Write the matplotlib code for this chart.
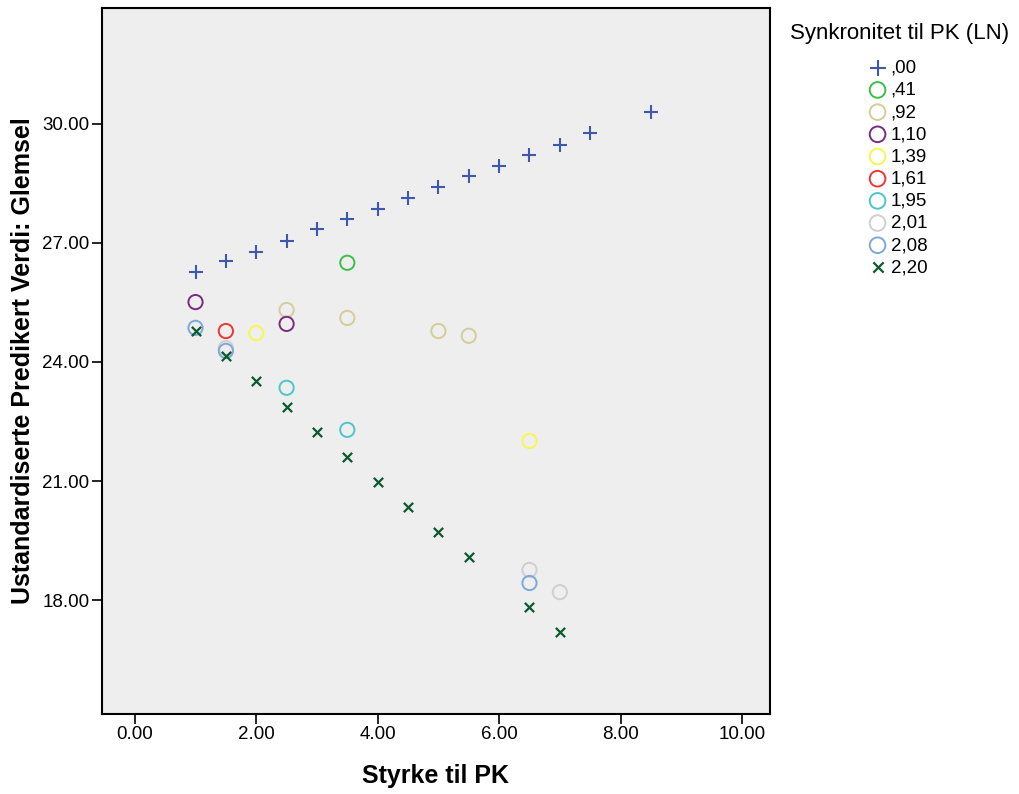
import matplotlib
matplotlib.use("Agg")
import matplotlib.pyplot as plt

plt.rcParams["font.family"] = ["Liberation Sans", "DejaVu Sans"]

# Synkronitet til PK (LN) groups: Styrke til PK (x) vs predicted Glemsel (y)
groups = [",00", ",41", ",92", "1,10", "1,39", "1,61", "1,95", "2,01", "2,08", "2,20"]

x_00 = [1, 1.5, 2, 2.5, 3, 3.5, 4, 4.5, 5, 5.5, 6, 6.5, 7, 7.5, 8.5]
y_00 = [26.27, 26.55, 26.77, 27.05, 27.35, 27.6, 27.86, 28.13, 28.41, 28.69, 28.94, 29.22, 29.47, 29.77, 30.3]
x_41 = [3.5]
y_41 = [26.5]
x_92 = [2.5, 3.5, 5, 5.5]
y_92 = [25.31, 25.11, 24.78, 24.66]
x_110 = [1, 2.5]
y_110 = [25.51, 24.96]
x_139 = [2, 6.5]
y_139 = [24.73, 22.01]
x_161 = [1.5]
y_161 = [24.78]
x_195 = [2.5, 3.5]
y_195 = [23.35, 22.29]
x_201 = [1.5, 6.5, 7]
y_201 = [24.35, 18.76, 18.2]
x_208 = [1, 1.5, 6.5]
y_208 = [24.86, 24.28, 18.43]
x_220 = [1, 1.5, 2, 2.5, 3, 3.5, 4, 4.5, 5, 5.5, 6.5, 7]
y_220 = [24.78, 24.15, 23.52, 22.87, 22.24, 21.61, 20.98, 20.34, 19.71, 19.08, 17.82, 17.19]

xs = [x_00, x_41, x_92, x_110, x_139, x_161, x_195, x_201, x_208, x_220]
ys = [y_00, y_41, y_92, y_110, y_139, y_161, y_195, y_201, y_208, y_220]
colors = ["#3E58AC", "#3DBE4A", "#D4CD98", "#7A2B80", "#F8F74F", "#EE3535",
          "#4CC6CC", "#CFCFCF", "#7EA8D8", "#0C5A30"]
markers = ["+", "o", "o", "o", "o", "o", "o", "o", "o", "x"]

fig = plt.figure(figsize=(10.19, 7.94), dpi=100)
ax = fig.add_axes([0.1001, 0.1008, 0.6555, 0.8891])
ax.set_facecolor("#EEEEEE")

for lab, x, y, c, m in zip(groups, xs, ys, colors, markers):
    if m == "o":
        ax.scatter(x, y, s=105, facecolors="none", edgecolors=c, linewidths=1.4, label=lab)
    elif m == "+":
        ax.scatter(x, y, s=110, marker="+", color=c, linewidths=1.5, label=lab)
    else:
        ax.scatter(x, y, s=45, marker="x", color=c, linewidths=1.6, label=lab)

ax.set_xlim(-0.54, 10.46)
ax.set_ylim(15.13, 32.92)
ax.set_xticks([0, 2, 4, 6, 8, 10])
ax.set_yticks([18, 21, 24, 27, 30])
ax.xaxis.set_major_formatter(plt.FormatStrFormatter("%.2f"))
ax.yaxis.set_major_formatter(plt.FormatStrFormatter("%.2f"))
ax.tick_params(direction="out", length=7, width=1.2, labelsize=13.5, pad=2)
for sp in ax.spines.values():
    sp.set_linewidth(1.5)

ax.set_xlabel("Styrke til PK", fontsize=18, fontweight="bold", labelpad=15)
ax.set_ylabel("Ustandardiserte Predikert Verdi: Glemsel", fontsize=18, fontweight="bold", labelpad=5)

fig.text(0.7752, 0.958, "Synkronitet til PK (LN)", fontsize=16, va="center", ha="left")
ax.legend(loc="upper left", bbox_to_anchor=(0.852, 0.925), bbox_transform=fig.transFigure,
          frameon=False, fontsize=13.5, handlelength=1.0, handletextpad=0.2,
          labelspacing=0.27, borderpad=0, borderaxespad=0, markerscale=1.1)

fig.savefig("out.png", dpi=100)
